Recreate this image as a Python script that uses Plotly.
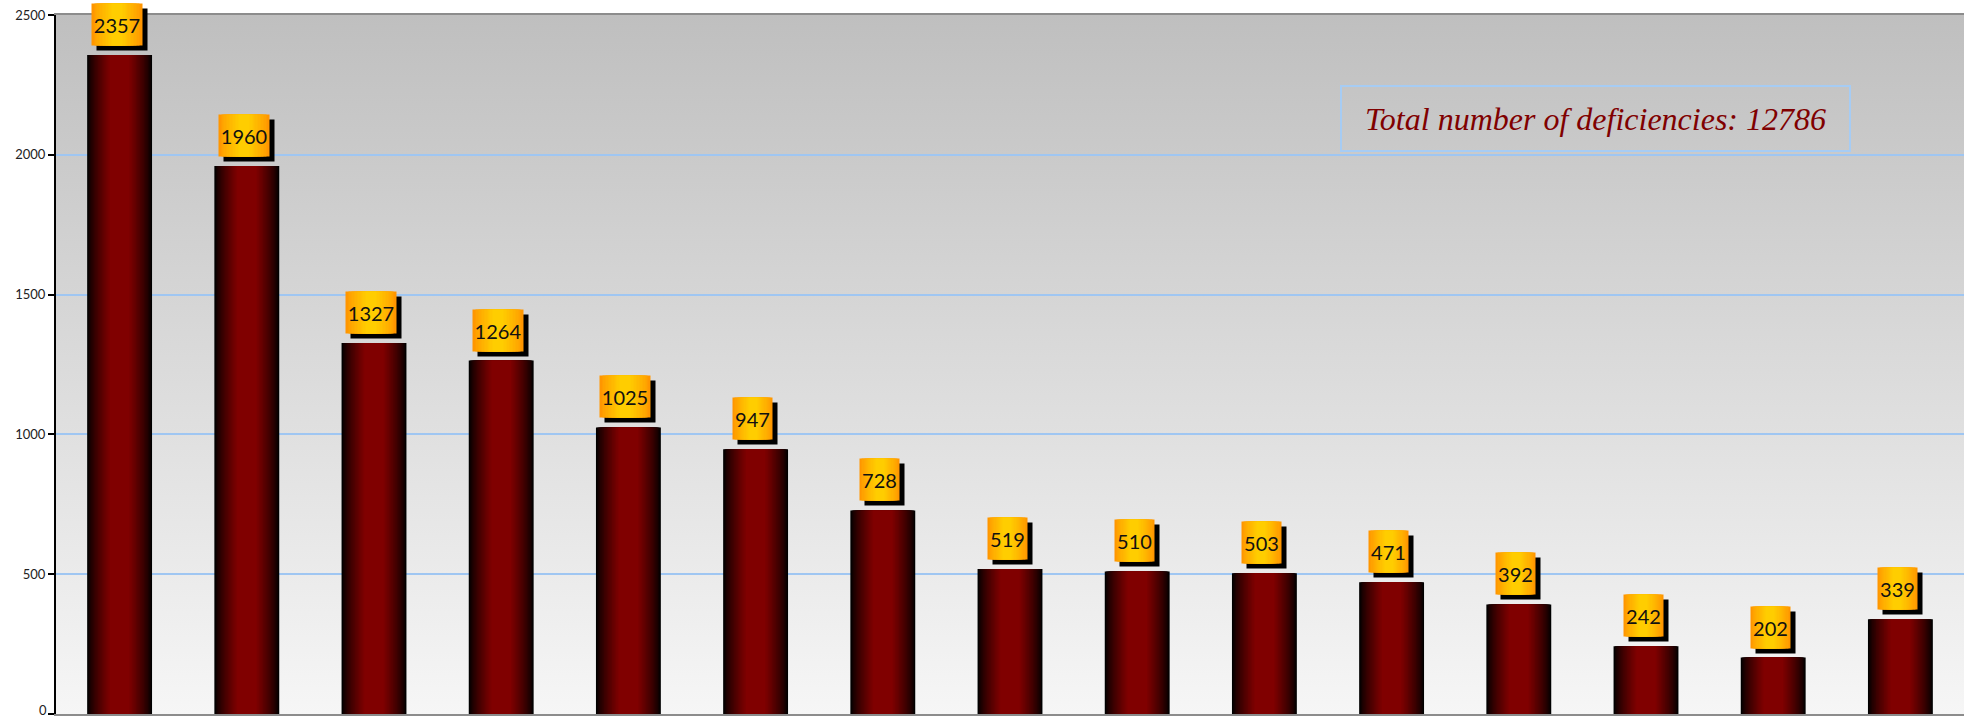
import base64
import plotly.graph_objects as go

# ---- data ----
categories = ["Category 1", "Category 2", "Category 3", "Category 4", "Category 5",
              "Category 6", "Category 7", "Category 8", "Category 9", "Category 10",
              "Category 11", "Category 12", "Category 13", "Category 14", "Category 15"]
values = [2357, 1960, 1327, 1264, 1025, 947, 728, 519, 510, 503, 471, 392, 242, 202, 339]
y_ticks = [0, 500, 1000, 1500, 2000, 2500]
y_tick_labels = ["0", "500", "1000", "1500", "2000", "2500"]
total_label = "Total number of deficiencies: {}".format(sum(values))

# ---- styling ----
W, H = 1964, 719
BAR_W = 0.51
GRID = "#9FC6F2"
TICK_FONT = dict(family="Lato, Carlito, sans-serif", size=13, color="#222222")

fig = go.Figure()

# bars with a horizontal black -> dark red -> black gradient (stacked overlay layers)
n_layers = 18
for i in range(n_layers):
    t = i / (n_layers - 1)
    w = BAR_W * (1 - 0.7 * t)
    r = int(round(128 * (t ** 0.75)))
    fig.add_trace(go.Bar(
        x=categories, y=values, width=w,
        marker=dict(color=f"rgb({r},0,0)", line=dict(width=0)),
        hoverinfo="skip" if i < n_layers - 1 else None,
        showlegend=False,
    ))

# value labels: shadow, orange gradient box, text
annotations = []
BOX_H = 41
GAP = 9
for c, v in zip(categories, values):
    txt = str(v)
    bw = 50 if len(txt) >= 4 else 39
    # shadow
    annotations.append(dict(x=c, y=v, xref="x", yref="y", text=" ", showarrow=False,
                            width=bw, height=BOX_H, borderpad=0, bgcolor="#000000",
                            xanchor="center", yanchor="bottom", xshift=2, yshift=GAP - 5))
    # gradient layers
    n_g = 8
    for j in range(n_g):
        t = j / (n_g - 1)
        gw = bw * (1 - 0.8 * t)
        g = int(round(150 + (205 - 150) * (t ** 0.8)))
        annotations.append(dict(x=c, y=v, xref="x", yref="y", text=" ", showarrow=False,
                                width=gw, height=BOX_H, borderpad=0,
                                bgcolor=f"rgb(255,{g},0)",
                                xanchor="center", yanchor="bottom", xshift=-3, yshift=GAP))
    annotations.append(dict(x=c, y=v, xref="x", yref="y", text=txt, showarrow=False,
                            width=bw, height=BOX_H, borderpad=0,
                            font=dict(family="Lato, Carlito, sans-serif", size=20, color="#111111"),
                            xanchor="center", yanchor="bottom", valign="middle",
                            xshift=-3, yshift=GAP))

# total box
annotations.append(dict(x=0.807, y=0.852, xref="paper", yref="paper",
                        text="<i>" + total_label + "</i>", showarrow=False,
                        xanchor="center", yanchor="middle",
                        width=507, height=63, borderpad=0,
                        bordercolor="#A6CCF4", borderwidth=2,
                        font=dict(family="Liberation Serif, Times New Roman, serif", size=32,
                                  color="#800000")))

# the bottom "0" tick label, kept inside the page
annotations.append(dict(x=0, y=y_ticks[0], xref="paper", yref="y", text=y_tick_labels[0],
                        showarrow=False, xanchor="right", yanchor="bottom",
                        xshift=-8, yshift=-5, borderpad=0, font=TICK_FONT))

# gradient background for the plot area
svg = ('<svg xmlns="http://www.w3.org/2000/svg" width="100" height="100" preserveAspectRatio="none">'
       '<defs><linearGradient id="g" x1="0" y1="0" x2="0" y2="1">'
       '<stop offset="0" stop-color="#BFBFBF"/><stop offset="1" stop-color="#F6F6F6"/>'
       '</linearGradient></defs><rect width="100" height="100" fill="url(#g)"/></svg>')
src = "data:image/svg+xml;base64," + base64.b64encode(svg.encode()).decode()

fig.update_layout(
    width=W, height=H,
    margin=dict(l=56, r=0, t=15, b=5),
    paper_bgcolor="white",
    plot_bgcolor="rgba(0,0,0,0)",
    barmode="overlay",
    bargap=0.49,
    annotations=annotations,
    images=[dict(source=src, xref="paper", yref="paper", x=0, y=1, sizex=1, sizey=1,
                 xanchor="left", yanchor="top", sizing="stretch", layer="below")],
    xaxis=dict(type="category", range=[-0.5, len(categories) - 0.5],
               showticklabels=False, ticks="", showgrid=False, zeroline=False,
               showline=True, linecolor="#8C8C8C", linewidth=2, mirror=True,
               automargin=False),
    yaxis=dict(range=[0, 2500], tickvals=y_ticks,
               ticktext=[""] + y_tick_labels[1:],
               showgrid=True, gridcolor=GRID, gridwidth=2,
               zeroline=False, showline=True, linecolor="#000000", linewidth=2,
               ticks="outside", ticklen=6, tickwidth=1.5, tickcolor="#000000",
               ticklabeloverflow="allow", automargin=False,
               tickfont=TICK_FONT),
    showlegend=False,
)

fig.write_html("out.html", config={"displayModeBar": False},
               post_script="document.body.style.margin='0';document.body.style.overflow='hidden';")
